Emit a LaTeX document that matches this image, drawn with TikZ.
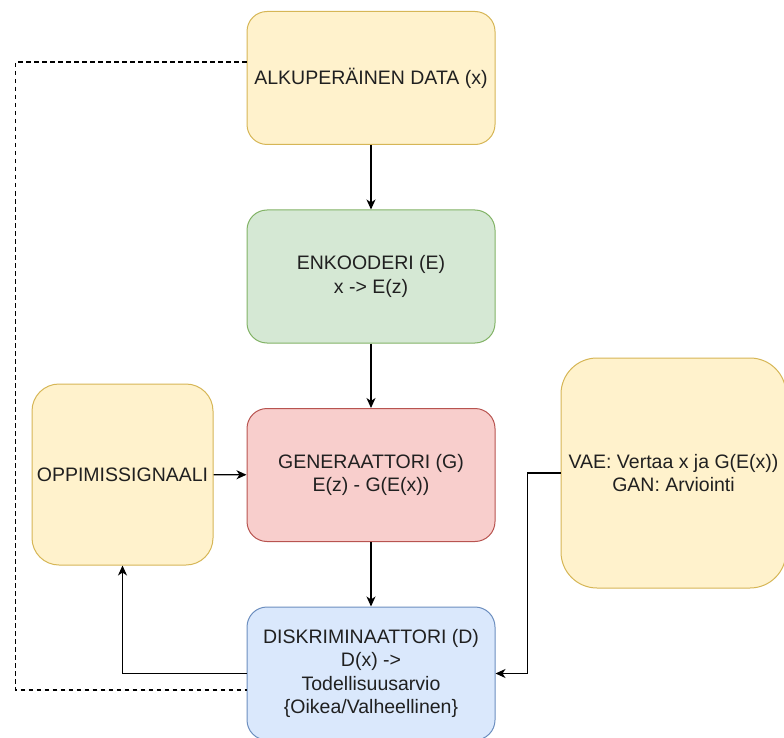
\documentclass[tikz,border=0pt]{standalone}
\usepackage{fontspec}
\setmainfont{Liberation Sans}
\usepackage{tikz}
\usetikzlibrary{arrows.meta}
\definecolor{datafill}{HTML}{FFF2CC}
\definecolor{datadraw}{HTML}{D6B656}
\definecolor{encfill}{HTML}{D5E8D4}
\definecolor{encdraw}{HTML}{82B366}
\definecolor{genfill}{HTML}{F8CECC}
\definecolor{gendraw}{HTML}{B85450}
\definecolor{discfill}{HTML}{DAE8FC}
\definecolor{discdraw}{HTML}{6C8EBF}
\definecolor{textgray}{HTML}{202020}

\begin{document}
\begin{tikzpicture}[x=1pt,y=-1pt]
  \tikzset{block/.style={draw,line width=1pt,rounded corners=20pt,minimum width=248pt,minimum height=133pt,align=center,text=textgray,font=\fontsize{19.5}{23.5}\selectfont,inner sep=2pt}}
  \tikzset{yellowbox/.style={block,fill=datafill,draw=datadraw}}
  \tikzset{flow/.style={-{Stealth[length=10pt,width=9pt,inset=3pt]},line width=1.2pt}}
  \tikzset{feedback/.style={line width=1.2pt,dash pattern=on 4.5pt off 3.5pt}}
  \clip (0,0) rectangle (784,738);
  \node[yellowbox] (data) at (371,78) {ALKUPERÄINEN DATA (x)};
  \node[block,fill=encfill,draw=encdraw] (enc) at (371,276.5) {ENKOODERI (E)\\x -> E(z)};
  \node[block,fill=genfill,draw=gendraw] (gen) at (371,475) {GENERAATTORI (G)\\E(z) - G(E(x))};
  \node[block,fill=discfill,draw=discdraw] (disc) at (371,673.5) {DISKRIMINAATTORI (D)\\D(x) ->\\Todellisuusarvio\\\{Oikea/Valheellinen\}};
  \node[yellowbox,minimum width=181pt,minimum height=181pt,rounded corners=27pt] (signal) at (122.5,474.5) {OPPIMISSIGNAALI};
  \node[yellowbox,minimum width=225pt,minimum height=230pt,rounded corners=36pt] (eval) at (673.5,473) {VAE: Vertaa x ja G(E(x))\\GAN: Arviointi};
  \draw[flow] (data) -- (enc);
  \draw[flow] (enc) -- (gen);
  \draw[flow] (gen) -- (disc);
  \draw[flow] (signal) -- (gen);
  \draw[flow] (disc.west) -| (signal.south);
  \draw[flow] (eval.west) -- ++(-33,0) |- (disc.east);
  \draw[feedback] ([yshift=16pt]data.west) -- ++(-231,0) |- ([yshift=-16.5pt]disc.west);
\end{tikzpicture}
\end{document}
